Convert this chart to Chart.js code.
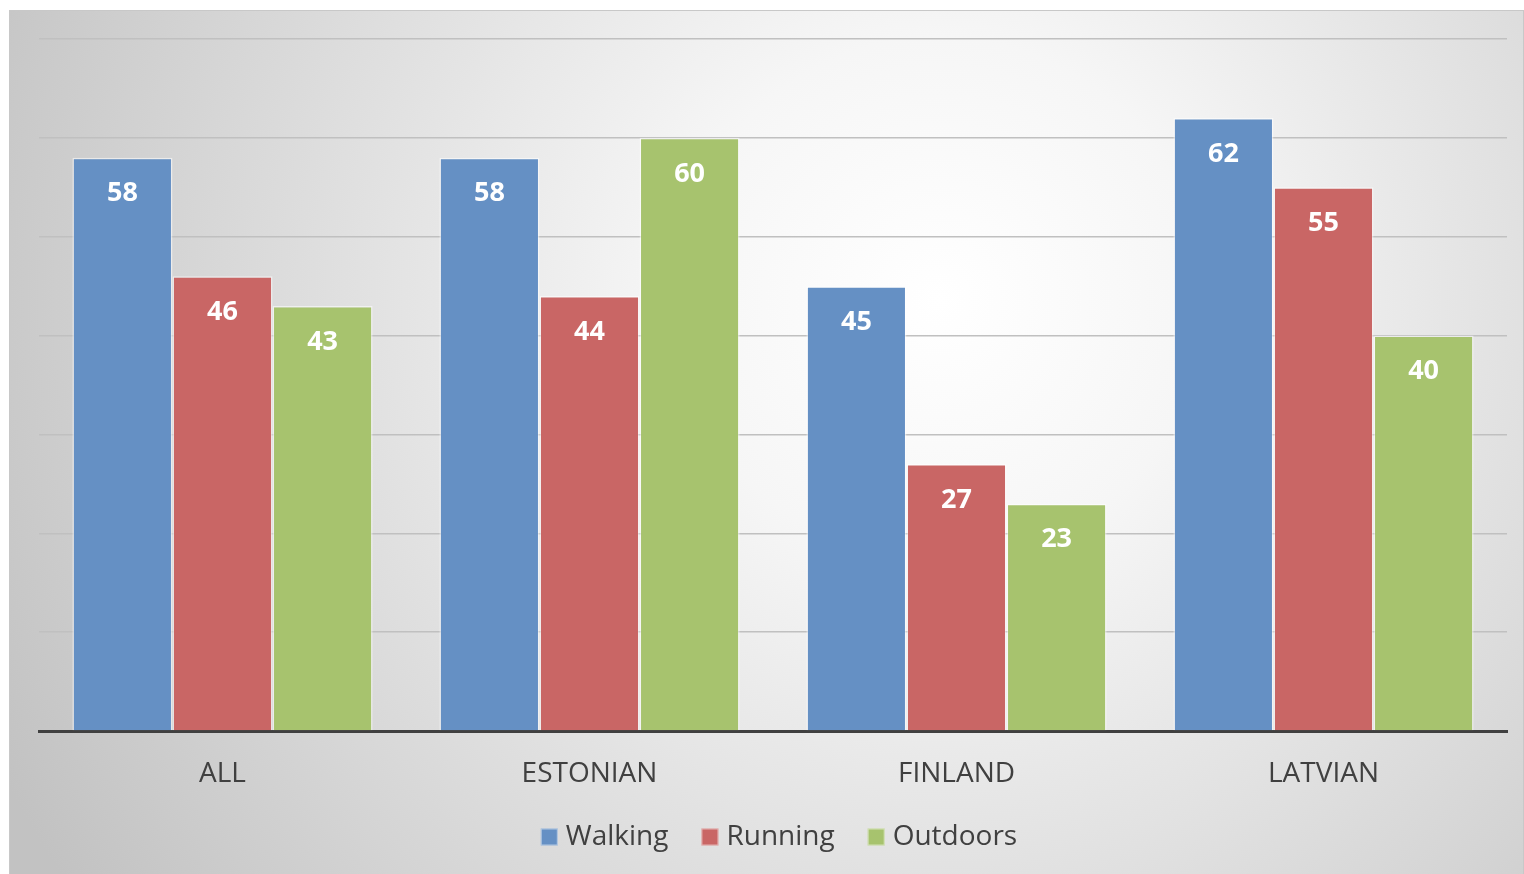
<!DOCTYPE html>
<html>
<head>
<meta charset="utf-8">
<script src="https://cdn.jsdelivr.net/npm/chart.js@4/dist/chart.umd.min.js"></script>
<style>
  html, body { margin: 0; padding: 0; background: #ffffff; }
  #wrap { position: absolute; left: 9px; top: 10px; width: 1515px; height: 864px; }
</style>
</head>
<body>
<div id="wrap"><canvas id="activityChart"></canvas></div>
<script>
const categories = ['ALL', 'ESTONIAN', 'FINLAND', 'LATVIAN'];
const walking = [58, 58, 45, 62];
const running = [46, 44, 27, 55];
const outdoors = [43, 60, 23, 40];

const FONT = '"Open Sans", sans-serif';

// soft grey-to-white radial backdrop behind the whole chart
const backdrop = {
    id: 'backdrop',
    beforeDraw(chart) {
        const { ctx, width, height } = chart;
        const g = ctx.createRadialGradient(930, 290, 0, 930, 290, 1050);
        g.addColorStop(0, '#ffffff');
        g.addColorStop(0.25, '#f6f6f6');
        g.addColorStop(1, '#c2c2c2');
        ctx.save();
        ctx.fillStyle = g;
        ctx.fillRect(0, 0, width, height);
        ctx.strokeStyle = '#c8c8c8';
        ctx.lineWidth = 1;
        ctx.strokeRect(0.5, 0.5, width - 1, height + 5);
        ctx.restore();
    }
};

// white value labels inside the top of each bar
const barValues = {
    id: 'barValues',
    afterDatasetsDraw(chart) {
        const ctx = chart.ctx;
        ctx.save();
        ctx.fillStyle = '#ffffff';
        ctx.font = 'bold 27px ' + FONT;
        ctx.textAlign = 'center';
        ctx.textBaseline = 'middle';
        chart.data.datasets.forEach((ds, i) => {
            chart.getDatasetMeta(i).data.forEach((bar, j) => {
                ctx.fillText(ds.data[j], bar.x, bar.y + 36);
            });
        });
        ctx.restore();
    }
};

// legend row under the axis: square swatch + series name
const bottomLegend = {
    id: 'bottomLegend',
    afterDraw(chart) {
        const ctx = chart.ctx;
        const box = 17, gap = 8, spacing = 33;
        const y = chart.height - 37;
        ctx.save();
        ctx.font = '28px ' + FONT;
        const items = chart.data.datasets.map(ds => ({
            ds, w: box + gap + ctx.measureText(ds.label).width
        }));
        const total = items.reduce((s, it) => s + it.w, 0) + spacing * (items.length - 1);
        let x = (chart.chartArea.left + chart.chartArea.right) / 2 - total / 2 + 6;
        items.forEach(({ ds, w }) => {
            ctx.fillStyle = ds.backgroundColor;
            ctx.fillRect(x, y - box / 2, box, box);
            ctx.strokeStyle = 'rgba(255,255,255,0.5)';
            ctx.lineWidth = 1;
            ctx.strokeRect(x + 0.5, y - box / 2 + 0.5, box - 1, box - 1);
            ctx.fillStyle = '#404040';
            ctx.textAlign = 'left';
            ctx.textBaseline = 'middle';
            ctx.fillText(ds.label, x + box + gap, y);
            x += w + spacing;
        });
        ctx.restore();
    }
};

const edge = 'rgba(255,255,255,0.55)';

new Chart(document.getElementById('activityChart'), {
    type: 'bar',
    data: {
        labels: categories,
        datasets: [
            { label: 'Walking', data: walking, backgroundColor: '#6590c4', borderColor: edge, borderWidth: 1.5 },
            { label: 'Running', data: running, backgroundColor: '#c96665', borderColor: edge, borderWidth: 1.5 },
            { label: 'Outdoors', data: outdoors, backgroundColor: '#a7c36e', borderColor: edge, borderWidth: 1.5 }
        ]
    },
    options: {
        responsive: true,
        maintainAspectRatio: false,
        animation: false,
        layout: { padding: { top: 29, left: 30, right: 17, bottom: 83 } },
        datasets: { bar: { categoryPercentage: 0.818, barPercentage: 1 } },
        scales: {
            x: {
                grid: { display: false, drawTicks: false },
                border: { color: '#404040', width: 3 },
                ticks: { color: '#404040', font: { family: FONT, size: 28 }, padding: 26 },
                afterFit(scale) { scale.height = 60; }
            },
            y: {
                min: 0,
                max: 70,
                ticks: { display: false, stepSize: 10 },
                grid: { color: '#c0c0c0', lineWidth: 1.5, drawTicks: false },
                border: { display: false }
            }
        },
        plugins: {
            legend: { display: false },
            tooltip: { enabled: false }
        }
    },
    plugins: [backdrop, barValues, bottomLegend]
});
</script>
</body>
</html>
